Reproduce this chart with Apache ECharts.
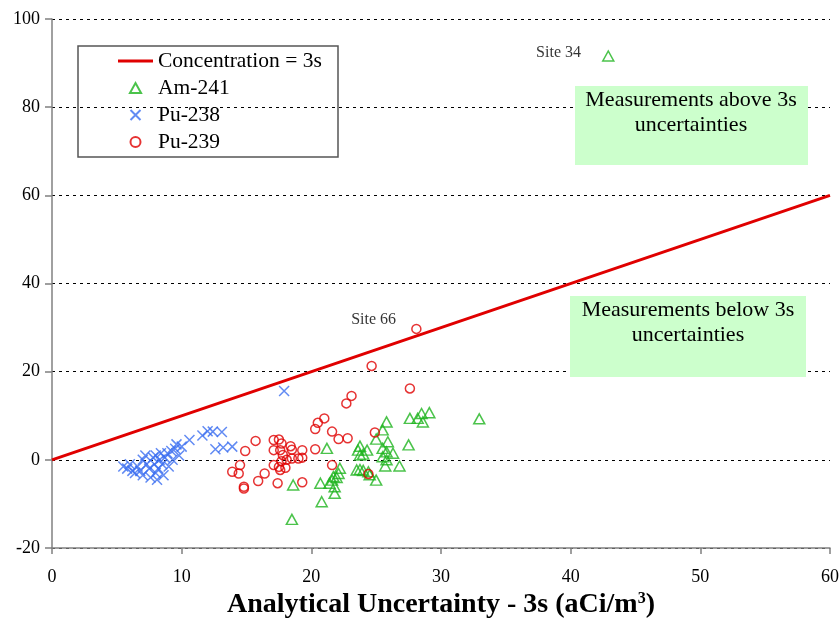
<!DOCTYPE html>
<html>
<head>
<meta charset="utf-8">
<script src="https://cdn.jsdelivr.net/npm/echarts@6/dist/echarts.min.js"></script>
<style>
  html, body { margin: 0; padding: 0; background: #fff; }
  #chart { width: 840px; height: 620px; }
</style>
</head>
<body>
<div id="chart"></div>
<script>
// Axis ranges / ticks
const xTicks = [0, 10, 20, 30, 40, 50, 60];
const yTicks = [-20, 0, 20, 40, 60, 80, 100];

// Reference line: concentration equal to the 3s uncertainty
const concentrationLine = [[0, 0], [60, 60]];

// [uncertainty 3s, concentration] in aCi/m3
const am241 = [
  [18.5, -13.5], [18.6, -5.7], [20.7, -5.3], [20.8, -9.5], [21.2, 2.6],
  [21.4, -5.3], [21.6, -4.6], [21.7, -3.8], [21.8, -6.1], [21.8, -7.6],
  [21.95, -4.0], [22.1, -3.1], [22.2, -1.9], [23.5, -2.3], [23.75, -2.2],
  [24.0, -2.4], [24.4, -2.7], [24.5, -3.4], [25.0, -4.6], [23.75, 3.1],
  [23.6, 2.2], [24.3, 2.2], [24.0, 1.3], [23.75, 1.1], [25.0, 4.7],
  [25.9, 4.1], [25.5, 6.8], [25.8, 8.6], [25.5, 2.6], [25.8, 1.8],
  [26.3, 1.5], [25.5, 0.7], [25.8, 0.0], [25.7, -1.4], [26.8, -1.4],
  [27.5, 3.4], [27.6, 9.4], [28.2, 9.4], [28.5, 10.5], [28.6, 8.6],
  [29.1, 10.7], [32.95, 9.3], [42.9, 91.6]
];

const pu238 = [
  [5.5, -1.5], [5.8, -2.0], [6.0, -1.0], [6.2, -2.5], [6.4, -3.0],
  [6.6, -1.5], [6.8, -2.5], [7.0, -3.5], [7.0, 0.0], [7.2, 1.0],
  [7.3, -1.0], [7.5, -2.0], [7.6, -4.0], [7.8, 0.5], [7.9, -1.0],
  [8.0, 1.0], [8.0, -3.0], [8.1, -4.5], [8.2, -2.0], [8.3, 0.0],
  [8.4, 1.5], [8.5, -1.0], [8.6, -3.5], [8.7, 0.5], [8.9, 1.5],
  [9.0, -1.5], [9.2, 2.0], [9.3, 0.0], [9.5, 2.5], [9.6, 3.5],
  [9.8, 1.0], [10.0, 3.0], [10.6, 4.5], [11.6, 5.5], [12.0, 6.5],
  [12.4, 6.4], [13.1, 6.3], [12.6, 2.4], [13.2, 2.8], [13.9, 3.0],
  [17.9, 15.6]
];

const pu239 = [
  [14.5, -1.2], [13.9, -2.7], [14.4, -3.1], [14.8, -6.1], [14.8, -6.5],
  [14.9, 2.0], [15.7, 4.3], [15.9, -4.8], [16.4, -3.1], [17.1, 4.5],
  [17.5, 4.6], [17.1, 2.2], [17.6, 2.2], [17.7, 3.7], [18.4, 3.1],
  [18.5, 2.3], [17.8, 1.1], [18.1, 0.0], [17.7, -0.3], [18.5, 0.3],
  [19.0, 0.3], [17.1, -1.2], [17.5, -1.6], [18.0, -1.8], [17.6, -2.3],
  [17.4, -5.3], [19.3, 2.2], [19.3, 0.5], [19.3, -5.1], [20.3, 2.4],
  [20.3, 7.0], [20.5, 8.4], [21.0, 9.4], [21.6, 6.4], [22.1, 4.7],
  [22.8, 4.9], [22.7, 12.8], [23.1, 14.5], [21.6, -1.2], [24.4, -3.2],
  [24.9, 6.2], [24.65, 21.3], [27.6, 16.2], [28.1, 29.7]
];

// Named sites: series, point index, label
const siteNotes = [
  { series: 'Am-241', index: am241.length - 1, text: 'Site 34', distance: 21, offset: [0, -3] },
  { series: 'Pu-239', index: pu239.length - 1, text: 'Site 66', distance: 15, offset: [0, -9] }
];

const SERIF = '"Liberation Serif", "Times New Roman", serif';

function withSiteLabels(name, points) {
  return points.map((p, i) => {
    const note = siteNotes.find(n => n.series === name && n.index === i);
    if (!note) return p;
    return {
      value: p,
      label: {
        show: true, formatter: note.text, position: 'left',
        distance: note.distance, offset: note.offset,
        fontFamily: SERIF, fontSize: 16, color: '#000'
      }
    };
  });
}

const chart = echarts.init(document.getElementById('chart'), null, { renderer: 'canvas' });

const option = {
  backgroundColor: '#fff',
  animation: false,
  grid: { left: 52, right: 10, top: 19, bottom: 72, outerBoundsMode: 'none', containLabel: false },
  xAxis: {
    type: 'value',
    min: xTicks[0], max: xTicks[xTicks.length - 1], interval: 10,
    name: 'Analytical Uncertainty - 3s (aCi/m{sup|3})',
    nameLocation: 'middle', nameGap: 42,
    nameTextStyle: {
      fontFamily: SERIF, fontSize: 28, fontWeight: 'bold', color: '#000',
      rich: {
        sup: { fontFamily: SERIF, fontSize: 16, fontWeight: 'bold', color: '#000', verticalAlign: 'top', padding: [0, 0, 12, 0] }
      }
    },
    axisLine: { show: true, onZero: false, lineStyle: { color: '#808080', width: 1.5 } },
    axisTick: { show: true, length: 6, lineStyle: { color: '#808080', width: 1.5 } },
    axisLabel: { margin: 20, fontFamily: SERIF, fontSize: 18, color: '#000' },
    splitLine: { show: false }
  },
  yAxis: {
    type: 'value',
    min: yTicks[0], max: yTicks[yTicks.length - 1], interval: 20,
    axisLine: { show: true, onZero: false, lineStyle: { color: '#808080', width: 1.5 } },
    axisTick: { show: true, length: 7, lineStyle: { color: '#808080', width: 1.5 } },
    axisLabel: { margin: 12, fontFamily: SERIF, fontSize: 18, color: '#000' },
    splitLine: { show: true, lineStyle: { color: '#000', width: 1, type: [3, 4] } }
  },
  legend: {
    orient: 'vertical', left: 118, top: 50, padding: 0,
    itemWidth: 35, itemHeight: 10, itemGap: 5,
    textStyle: { fontFamily: SERIF, fontSize: 21.5, color: '#000', lineHeight: 22 },
    data: [
      { name: 'Concentration = 3s', icon: 'path://M0,0H35V3H0Z' },
      { name: 'Am-241', icon: 'path://M5,0L10,9L0,9Z' },
      { name: 'Pu-238', icon: 'path://M0,0L10,10M10,0L0,10' },
      { name: 'Pu-239', icon: 'circle' }
    ]
  },
  graphic: [
    {
      type: 'rect', z: 5, silent: true,
      shape: { x: 78, y: 46, width: 260, height: 111 },
      style: { fill: 'none', stroke: '#555', lineWidth: 1.5 }
    },
    {
      type: 'rect', z: 5, silent: true,
      shape: { x: 575, y: 86, width: 233, height: 79 },
      style: { fill: '#CCFFCC' }
    },
    {
      type: 'text', z: 6, silent: true, x: 691, y: 88,
      style: { text: 'Measurements above 3s\nuncertainties', align: 'center', verticalAlign: 'top',
               font: '22px "Liberation Serif", serif', fill: '#000', lineHeight: 25 }
    },
    {
      type: 'rect', z: 5, silent: true,
      shape: { x: 570, y: 296, width: 236, height: 81 },
      style: { fill: '#CCFFCC' }
    },
    {
      type: 'text', z: 6, silent: true, x: 688, y: 298,
      style: { text: 'Measurements below 3s\nuncertainties', align: 'center', verticalAlign: 'top',
               font: '22px "Liberation Serif", serif', fill: '#000', lineHeight: 25 }
    }
  ],
  series: [
    {
      name: 'Concentration = 3s', type: 'line', data: concentrationLine,
      symbol: 'none', symbolKeepAspect: true,
      lineStyle: { color: '#E00000', width: 3 }, itemStyle: { color: '#E00000' },
      z: 2
    },
    {
      name: 'Am-241', type: 'scatter', data: withSiteLabels('Am-241', am241),
      symbol: 'triangle', symbolSize: [11, 10], symbolKeepAspect: true,
      itemStyle: { color: 'transparent', borderColor: '#1EB41E', borderWidth: 1.5 },
      z: 3
    },
    {
      name: 'Pu-238', type: 'scatter', data: pu238,
      symbol: 'path://M0,0L10,10M10,0L0,10', symbolSize: 10, symbolKeepAspect: true,
      itemStyle: { color: 'transparent', borderColor: '#3B6EF0', borderWidth: 1.5 },
      z: 3
    },
    {
      name: 'Pu-239', type: 'scatter', data: withSiteLabels('Pu-239', pu239),
      symbol: 'circle', symbolSize: 9, symbolKeepAspect: true,
      itemStyle: { color: 'transparent', borderColor: '#E00000', borderWidth: 1.5 },
      z: 4
    }
  ]
};

chart.setOption(option);
</script>
</body>
</html>
